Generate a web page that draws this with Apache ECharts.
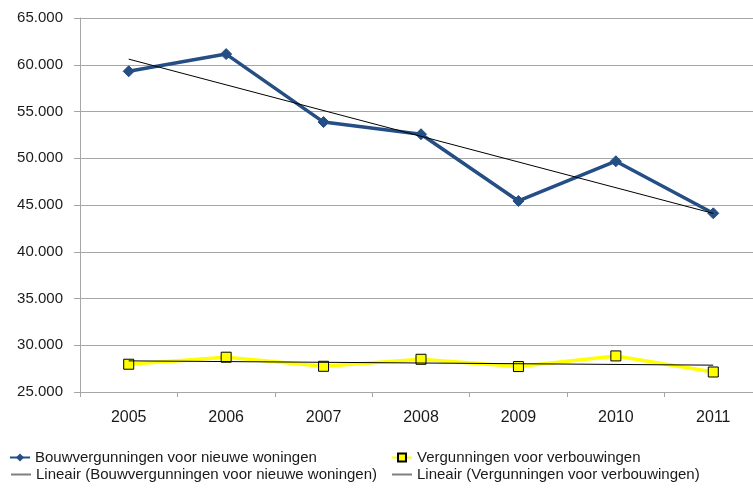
<!DOCTYPE html>
<html>
<head>
<meta charset="utf-8">
<script src="https://cdn.jsdelivr.net/npm/echarts@6/dist/echarts.min.js"></script>
<style>
html,body{margin:0;padding:0;background:#fff;overflow:hidden;width:753px;height:491px;}
#chart{width:763px;height:491px;}
</style>
</head>
<body>
<div id="chart"></div>
<script>
const categories = ['2005','2006','2007','2008','2009','2010','2011'];
const nieuweWoningen = [59300, 61140, 53870, 52570, 45430, 49680, 44110];
const verbouwingen = [27970, 28720, 27750, 28500, 27720, 28860, 27140];
// trend line end points (2005 and 2011)
const trendNieuwe = [60600, null, null, null, null, null, 44100];
const trendVerbouw = [28330, null, null, null, null, null, 27870];
const yTicks = {min: 25000, max: 65000, interval: 5000};

const nameA = 'Bouwvergunningen voor nieuwe woningen';
const nameB = 'Vergunningen voor verbouwingen';
const nameC = 'Lineair (Bouwvergunningen voor nieuwe woningen)';
const nameD = 'Lineair (Vergunningen voor verbouwingen)';

const font = "'Liberation Sans', Arial, sans-serif";
const gridColor = '#a6a6a6';

function fmt(v){
  const k = Math.floor(v/1000);
  const r = String(v%1000).padStart(3,'0');
  return k + '.' + r;
}

function legend(data, left, top, extra){
  return Object.assign({
    left: left, top: top, orient: 'horizontal',
    itemWidth: 20, itemHeight: 10, itemGap: 0, padding: 0,
    textStyle: {fontFamily: font, fontSize: 15, color: '#1a1a1a'},
    data: [data]
  }, extra || {});
}

const trendLegendItem = (name) => ({
  name: name, icon: 'rect',
  itemStyle: {color: '#7f7f7f', borderWidth: 0},
  lineStyle: {color: '#7f7f7f', width: 2}
});

const chart = echarts.init(document.getElementById('chart'), null, {renderer: 'canvas'});
chart.setOption({
  animation: false,
  backgroundColor: '#ffffff',
  grid: {left: 80, top: 18, width: 682, height: 374, containLabel: false},
  xAxis: {
    type: 'category',
    data: categories,
    boundaryGap: true,
    axisLine: {show: true, lineStyle: {color: gridColor, width: 1}},
    axisTick: {show: true, length: 5, alignWithLabel: false, lineStyle: {color: gridColor}},
    axisLabel: {fontFamily: font, fontSize: 16, color: '#1a1a1a', margin: 18},
    splitLine: {show: false}
  },
  yAxis: {
    type: 'value',
    min: yTicks.min, max: yTicks.max, interval: yTicks.interval,
    axisLine: {show: true, lineStyle: {color: gridColor, width: 1}},
    axisTick: {show: true, length: 6, lineStyle: {color: gridColor}},
    axisLabel: {fontFamily: font, fontSize: 15, color: '#1a1a1a', margin: 17, formatter: fmt},
    splitLine: {show: true, lineStyle: {color: gridColor, width: 1}}
  },
  legend: [
    legend(nameA, 9, 450),
    legend(nameB, 391, 450),
    legend(trendLegendItem(nameC), 11, 467, {itemHeight: 2}),
    legend(trendLegendItem(nameD), 392, 467, {itemHeight: 2})
  ],
  series: [
    {
      name: nameA, type: 'line', data: nieuweWoningen, z: 2,
      symbol: 'diamond', symbolSize: 11,
      lineStyle: {color: '#244e84', width: 3.5},
      itemStyle: {color: '#244e84', borderColor: '#244e84'}
    },
    {
      name: nameB, type: 'line', data: verbouwingen, z: 2,
      symbol: 'rect', symbolSize: 10,
      lineStyle: {color: '#ffff00', width: 3.5},
      itemStyle: {color: '#ffff00', borderColor: '#000000', borderWidth: 1}
    },
    {
      name: nameC, type: 'line', data: trendNieuwe, connectNulls: true, z: 3,
      symbol: 'none',
      lineStyle: {color: '#000000', width: 1},
      itemStyle: {color: '#000000'}
    },
    {
      name: nameD, type: 'line', data: trendVerbouw, connectNulls: true, z: 3,
      symbol: 'none',
      lineStyle: {color: '#000000', width: 1},
      itemStyle: {color: '#000000'}
    }
  ]
});
</script>
</body>
</html>
